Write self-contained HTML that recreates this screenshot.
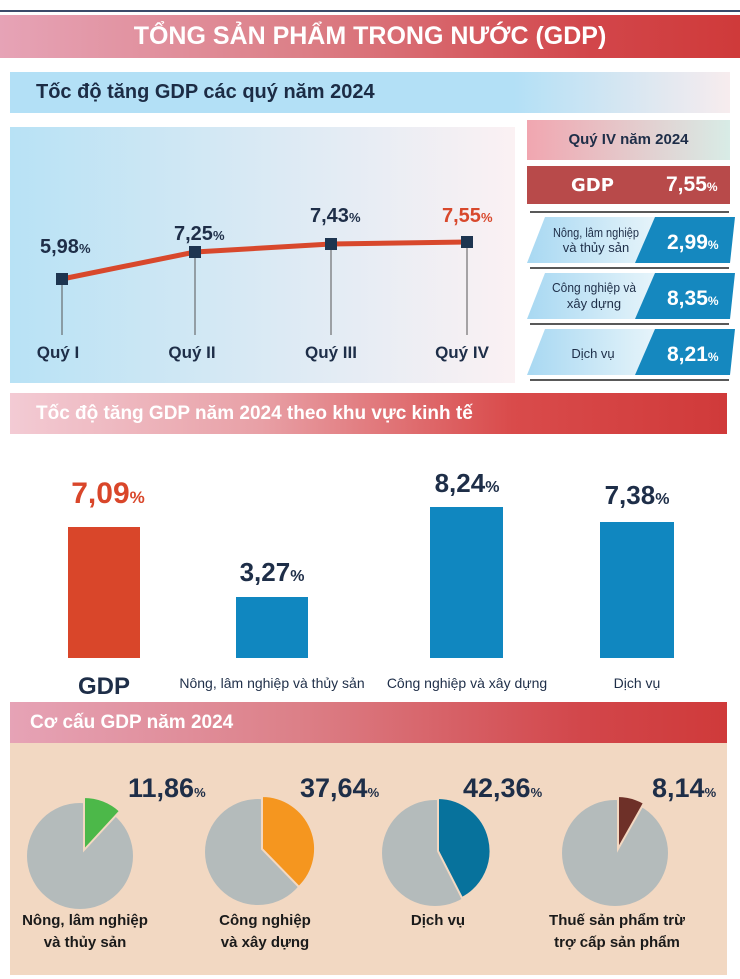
<!DOCTYPE html>
<html><head><meta charset="utf-8"><style>
body{margin:0;width:740px;height:979px;background:#fff;font-family:"Liberation Sans Narrow","Liberation Sans",sans-serif;position:relative;overflow:hidden}
.a{position:absolute}
text{font-family:"Liberation Sans Narrow","Liberation Sans",sans-serif}
</style></head><body>
<div class="a" style="left:0;top:10px;width:740px;height:2px;background:#3a4a6a"></div>
<div class="a" style="left:0;top:15px;width:740px;height:43px;background:linear-gradient(90deg,#e6a3b6,#dc8088 40%,#d2464a 80%,#cf3a3a);color:#fff;font-size:25px;font-weight:bold;text-align:center;line-height:43px">TỔNG SẢN PHẨM TRONG NƯỚC (GDP)</div>
<div class="a" style="left:10px;top:72px;width:720px;height:41px;background:linear-gradient(90deg,#b3e0f6 70%,#f7ecee);color:#1c2c45;font-size:20px;font-weight:bold;line-height:41px;padding-left:26px;box-sizing:border-box">Tốc độ tăng GDP các quý năm 2024</div>
<div class="a" style="left:10px;top:127px;width:505px;height:256px;background:linear-gradient(90deg,#b8e2f5,#fbf1f3)"></div>
<svg class="a" style="left:0;top:0" width="740" height="979">
<g stroke="#555" stroke-width="1">
<line x1="62" y1="279" x2="62" y2="335"/><line x1="195" y1="252" x2="195" y2="335"/><line x1="331" y1="244" x2="331" y2="335"/><line x1="467" y1="242" x2="467" y2="335"/>
</g>
<polyline points="62,279 195,252 331,244 467,242" fill="none" stroke="#d8482c" stroke-width="5"/>
<g fill="#1e3550"><rect x="56" y="273" width="12" height="12"/><rect x="189" y="246" width="12" height="12"/><rect x="325" y="238" width="12" height="12"/><rect x="461" y="236" width="12" height="12"/></g>
<g font-weight="bold" font-size="20" fill="#1e2e48">
<text x="40" y="253">5,98<tspan font-size="13">%</tspan></text>
<text x="174" y="240">7,25<tspan font-size="13">%</tspan></text>
<text x="310" y="222">7,43<tspan font-size="13">%</tspan></text>
<text x="442" y="222" fill="#d8482c">7,55<tspan font-size="13">%</tspan></text>
</g>
<g font-weight="bold" font-size="17" fill="#1e2e48" text-anchor="middle">
<text x="58" y="358">Quý I</text><text x="192" y="358">Quý II</text><text x="331" y="358">Quý III</text><text x="462" y="358">Quý IV</text>
</g>
<g stroke="#222" stroke-width="1.5"><line x1="530" y1="212" x2="729" y2="212"/><line x1="530" y1="268" x2="729" y2="268"/><line x1="530" y1="324" x2="729" y2="324"/><line x1="530" y1="380" x2="729" y2="380"/></g>
<defs><linearGradient id="lb" x1="0" x2="1"><stop offset="0" stop-color="#a8d8f2"/><stop offset="1" stop-color="#e6f4fa"/></linearGradient></defs>
<g>
<polygon points="545,217 655,217 640,263 527,263" fill="url(#lb)"/><polygon points="655,217 735,217 730,263 635,263" fill="#1588bf"/>
<polygon points="545,273 655,273 640,319 527,319" fill="url(#lb)"/><polygon points="655,273 735,273 730,319 635,319" fill="#1588bf"/>
<polygon points="545,329 655,329 640,375 527,375" fill="url(#lb)"/><polygon points="655,329 735,329 730,375 635,375" fill="#1588bf"/>
</g>
<g font-size="13" fill="#1e2e48" text-anchor="middle">
<text x="596" y="237" textLength="86" lengthAdjust="spacingAndGlyphs">Nông, lâm nghiệp</text><text x="596" y="252">và thủy sản</text>
<text x="594" y="292" textLength="84" lengthAdjust="spacingAndGlyphs">Công nghiệp và</text><text x="594" y="308">xây dựng</text>
<text x="593" y="358">Dịch vụ</text>
</g>
<g font-weight="bold" font-size="21" fill="#fff">
<text x="667" y="249">2,99<tspan font-size="12">%</tspan></text>
<text x="667" y="305">8,35<tspan font-size="12">%</tspan></text>
<text x="667" y="361">8,21<tspan font-size="12">%</tspan></text>
</g>
<rect x="68" y="527" width="72" height="131" fill="#d9462a"/>
<rect x="236" y="597" width="72" height="61" fill="#1087c0"/>
<rect x="430" y="507" width="73" height="151" fill="#1087c0"/>
<rect x="600" y="522" width="74" height="136" fill="#1087c0"/>
<g font-weight="bold" font-size="26" text-anchor="middle" fill="#1e2e48">
<text x="108" y="503" fill="#d9462a" font-size="30">7,09<tspan font-size="17">%</tspan></text>
<text x="272" y="581">3,27<tspan font-size="16">%</tspan></text>
<text x="467" y="492">8,24<tspan font-size="16">%</tspan></text>
<text x="637" y="504">7,38<tspan font-size="16">%</tspan></text>
</g>
<text x="104" y="694" text-anchor="middle" font-weight="bold" font-size="24" fill="#1e2e48">GDP</text>
<g font-size="14" fill="#1e2e48" text-anchor="middle">
<text x="272" y="688">Nông, lâm nghiệp và thủy sản</text><text x="467" y="688">Công nghiệp và xây dựng</text><text x="637" y="688">Dịch vụ</text>
</g>
</svg>
<div class="a" style="left:527px;top:120px;width:203px;height:40px;background:linear-gradient(90deg,#f1a6b0,#d8ece6);color:#1e2e48;font-size:15px;font-weight:bold;text-align:center;line-height:40px">Quý IV năm 2024</div>
<div class="a" style="left:527px;top:166px;width:203px;height:38px;background:#b84a4a;color:#fff;font-weight:bold"><span class="a" style="left:44px;top:9px;font-size:18px;font-family:'DejaVu Sans';font-weight:bold">GDP</span><span class="a" style="left:139px;top:7px;font-size:21px">7,55<span style="font-size:12px">%</span></span></div>
<div class="a" style="left:10px;top:393px;width:717px;height:41px;background:linear-gradient(90deg,#f3cbd4,#e8a0a6 35%,#d94b4b 70%,#d03a3a);color:#fff;font-size:19px;font-weight:bold;line-height:41px;padding-left:26px;box-sizing:border-box">Tốc độ tăng GDP năm 2024 theo khu vực kinh tế</div>
<div class="a" style="left:10px;top:702px;width:717px;height:41px;background:linear-gradient(90deg,#e6a3b6,#dc8088 40%,#d2464a 80%,#cf3a3a);color:#fff;font-size:19px;font-weight:bold;line-height:41px;padding-left:20px;box-sizing:border-box">Cơ cấu GDP năm 2024</div>
<div class="a" style="left:10px;top:743px;width:717px;height:232px;background:#f2d8c2"></div>
<svg class="a" style="left:0;top:0" width="740" height="979">
<g fill="#b4bbbb">
<circle cx="80" cy="856" r="53"/><circle cx="258" cy="852" r="53"/><circle cx="435" cy="853" r="53"/><circle cx="615" cy="853" r="53"/>
</g>
<g stroke="#f2d8c2" stroke-width="2">
<path d="M84 850 L84 797 A53 53 0 0 1 120 811 Z" fill="#4cb849"/>
<path d="M262 849 L262 796 A53 53 0 0 1 299 887 Z" fill="#f5961f"/>
<path d="M438 851 L438 798 A53 53 0 0 1 462 898 Z" fill="#07729c"/>
<path d="M618 849 L618 796 A53 53 0 0 1 644 803 Z" fill="#6e3028"/>
</g>
<g font-weight="bold" font-size="27" fill="#1e2e48">
<text x="128" y="797">11,86<tspan font-size="13">%</tspan></text>
<text x="300" y="797">37,64<tspan font-size="13">%</tspan></text>
<text x="463" y="797">42,36<tspan font-size="13">%</tspan></text>
<text x="652" y="797">8,14<tspan font-size="13">%</tspan></text>
</g>
<g font-weight="bold" font-size="15" fill="#1a1a1a" text-anchor="middle">
<text x="85" y="925">Nông, lâm nghiệp</text><text x="85" y="947">và thủy sản</text>
<text x="265" y="925">Công nghiệp</text><text x="265" y="947">và xây dựng</text>
<text x="438" y="925">Dịch vụ</text>
<text x="617" y="925">Thuế sản phẩm trừ</text><text x="617" y="947">trợ cấp sản phẩm</text>
</g>
</svg>
</body></html>
